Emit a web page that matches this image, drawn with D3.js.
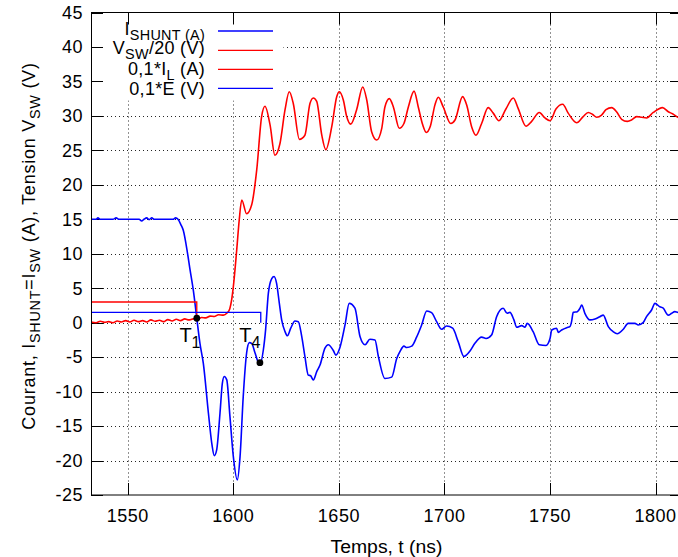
<!DOCTYPE html>
<html><head><meta charset="utf-8">
<script src="https://cdn.jsdelivr.net/npm/d3@7"></script>
<style>body{margin:0;background:#fff}svg{display:block}</style>
</head><body><svg id="c" width="678" height="557"></svg>
<script>
// ---- data ----
const xTicks = [1550, 1600, 1650, 1700, 1750, 1800];
const yTicks = [-25, -20, -15, -10, -5, 0, 5, 10, 15, 20, 25, 30, 35, 40, 45];

const tShunt = [1532.6,1535.0,1535.9,1536.9,1543.0,1544.5,1545.9,1555.4,1556.6,1557.7,1559.0,1560.1,1561.4,1562.5,1571.4,1572.7,1573.8,1575.2,1576.3,1578.3,1579.5,1581.1,1582.7,1584.2,1585.8,1588.2,1589.8,1591.0,1592.1,1593.7,1594.8,1595.7,1596.9,1598.4,1600.0,1601.9,1603.2,1604.7,1606.3,1607.6,1608.7,1610.3,1611.8,1612.8,1614.2,1615.3,1616.6,1618.2,1619.3,1620.5,1621.8,1622.9,1624.5,1625.6,1627.2,1629.2,1630.8,1632.4,1633.9,1635.5,1636.6,1637.9,1639.5,1641.1,1643.4,1645.0,1647.3,1648.6,1650.5,1652.9,1654.9,1657.6,1660.0,1662.4,1664.7,1667.1,1668.7,1671.8,1675.0,1677.4,1678.9,1680.8,1682.1,1684.5,1686.8,1689.2,1691.6,1693.9,1696.3,1698.7,1701.0,1703.9,1706.5,1709.2,1712.1,1714.4,1717.6,1719.7,1722.3,1724.7,1727.8,1729.7,1731.0,1732.9,1734.2,1736.6,1738.1,1739.2,1742.0,1744.9,1748.1,1750.0,1750.8,1753.1,1753.9,1755.5,1757.9,1759.4,1760.2,1761.0,1762.9,1764.2,1765.0,1766.5,1768.9,1771.3,1773.6,1775.2,1777.6,1779.9,1781.8,1784.7,1787.0,1790.2,1791.8,1794.1,1795.7,1798.1,1799.7,1802.0,1803.6,1806.0,1807.6,1809.1,1810.6,1812.5];
const iShunt = [15.0,15.0,15.2,15.0,15.0,15.2,15.0,15.0,14.75,15.0,15.2,14.95,15.2,15.0,15.0,15.2,15.0,14.2,13.4,10.1,7.7,4.6,0.64,-3.0,-5.9,-13.1,-17.5,-19.3,-18.5,-13.1,-8.8,-7.8,-8.3,-13.6,-19.4,-22.8,-19.4,-10.7,-4.4,-2.9,-3.0,-4.4,-5.7,-5.9,-4.0,-1.0,4.3,6.4,6.7,5.7,2.8,0.4,-1.3,-1.9,-0.8,0.25,0.15,-2.0,-4.9,-7.6,-7.7,-8.3,-7.1,-6.1,-3.7,-3.2,-4.0,-4.7,-3.6,-0.33,2.8,2.1,-2.0,-3.2,-2.4,-2.5,-4.9,-8.1,-7.9,-5.2,-4.2,-3.4,-3.6,-3.4,-2.1,-0.33,1.7,1.45,0.15,-0.96,-0.48,-0.8,-2.75,-4.9,-4.1,-3.0,-2.1,-2.3,-1.8,0.87,2.1,1.36,1.5,0.4,-0.67,-0.43,-0.67,-0.1,-1.3,-3.2,-3.3,-2.3,-1.06,-0.8,-1.4,-1.06,-0.72,-0.58,0.15,1.5,1.6,2.1,2.57,1.36,0.4,0.54,0.87,1.1,-0.58,-1.3,-1.6,-0.96,-0.1,-0.1,-0.33,0.0,0.87,1.84,2.8,2.3,2.1,1.1,1.36,1.6,1.5,1.5];

const tVsw = [1532.6,1535,1537,1539,1541,1543,1545,1547,1549,1551,1553,1555,1557,1559,1561,1563,1565,1567,1569,1571,1573,1575,1577,1579,1581,1583,1585,1587,1589,1591,1593,1595.3,1596.9,1598.3,1599.2,1600.0,1601.6,1602.8,1604.0,1606.3,1608.7,1611.1,1613.4,1615.0,1617.4,1619.7,1622.1,1624.5,1626.5,1628.4,1631.3,1633.9,1636.3,1637.9,1639.5,1641.9,1643.8,1646.6,1649.0,1650.2,1652.1,1653.7,1655.6,1658.4,1661.3,1663.2,1665.5,1667.9,1670.3,1671.8,1673.9,1675.8,1678.6,1680.8,1682.9,1685.6,1687.6,1689.7,1691.4,1693.3,1695.5,1697.1,1699.4,1703.0,1705.0,1708.6,1710.5,1712.9,1714.9,1717.6,1720.7,1723.1,1725.8,1729.1,1732.6,1734.9,1738.6,1741.3,1744.9,1747.6,1750.0,1752.8,1756.0,1758.6,1762.6,1765.7,1768.1,1770.2,1772.1,1774.4,1776.5,1779.2,1781.5,1783.9,1786.6,1788.6,1791.0,1793.4,1795.7,1798.9,1803.3,1806.0,1808.0,1810.6,1812.5];
const vSw = [0.1,0.0,0.2,0.05,0.15,0.0,0.25,0.1,0.3,0.1,0.35,0.15,0.3,0.1,0.4,0.2,0.35,0.15,0.45,0.25,0.5,0.3,0.55,0.4,0.55,0.5,0.75,0.7,0.95,0.9,1.15,1.1,1.36,2.0,3.3,5.2,10.5,14.9,17.8,15.8,17.1,22.2,29.9,31.4,28.7,24.3,26.0,30.9,33.5,31.8,26.6,27.2,31.8,32.6,32.1,27.2,25.1,28.4,32.8,33.5,32.3,29.9,28.8,30.9,34.2,32.3,27.7,26.5,28.2,31.3,32.5,31.3,28.2,28.9,31.3,33.6,31.3,28.7,27.6,28.5,31.6,32.7,31.3,28.9,29.4,32.8,31.6,28.4,27.2,28.9,31.2,30.4,29.3,31.0,32.6,31.1,28.5,29.2,30.5,29.7,29.3,31.0,31.7,30.4,29.0,29.9,30.5,30.2,29.8,30.1,30.9,31.2,30.6,29.5,29.2,29.4,29.9,29.8,29.7,30.5,31.2,30.6,30.3,29.8,29.6];

const tIL = [1532.6, 1582.7, 1582.7];
const iL = [3.0, 3.0, 0.64];
const tE = [1532.6, 1613.0, 1613.0];
const eV = [1.5, 1.5, 0.0];

const markT = [1582.7, 1612.6];
const markV = [0.64, -5.8];
const markSub = ["1", "4"];

// ---- layout ----
const FONT = "'Liberation Sans', Arial, Helvetica, sans-serif";
const L = 91, R = 682, T = 12.5, B = 495;
const BLUE = "#0000ff", RED = "#ff0000";

const svg = d3.select("#c");
const x = d3.scaleLinear().domain([1532.6, 1812.5]).range([L, R]);
const y = d3.scaleLinear().domain([-25, 45]).range([B, T]);

svg.append("defs").append("clipPath").attr("id", "clip")
  .append("rect").attr("x", L).attr("y", T).attr("width", R - L).attr("height", B - T);

// grid
const grid = svg.append("g").attr("stroke", "#000").attr("stroke-width", 1)
  .attr("stroke-dasharray", "1,3").attr("opacity", 0.85);
grid.selectAll("line.v").data(xTicks).join("line").attr("class", "v")
  .attr("x1", d => Math.round(x(d)) + 0.5).attr("x2", d => Math.round(x(d)) + 0.5)
  .attr("y1", T).attr("y2", B);
grid.selectAll("line.h").data(yTicks.filter(d => d > -25 && d < 45)).join("line").attr("class", "h")
  .attr("y1", d => Math.round(y(d)) + 0.5).attr("y2", d => Math.round(y(d)) + 0.5)
  .attr("x1", L).attr("x2", R);

// opaque key area
svg.append("rect").attr("x", L + 0.5).attr("y", T + 0.5).attr("width", 283 - L).attr("height", 100 - T).attr("fill", "#fff");

// ticks (inward, all four sides)
const TK = 12;
const tk = svg.append("g").attr("stroke", "#000").attr("stroke-width", 1);
xTicks.forEach(d => {
  const px = Math.round(x(d)) + 0.5;
  tk.append("line").attr("x1", px).attr("x2", px).attr("y1", B).attr("y2", B - TK);
  tk.append("line").attr("x1", px).attr("x2", px).attr("y1", T).attr("y2", T + TK);
});
yTicks.forEach(d => {
  const py = Math.round(y(d)) + 0.5;
  tk.append("line").attr("y1", py).attr("y2", py).attr("x1", L).attr("x2", L + TK);
  tk.append("line").attr("y1", py).attr("y2", py).attr("x1", R).attr("x2", R - TK);
});

// tick labels
svg.append("g").selectAll("text").data(xTicks).join("text")
  .attr("x", d => x(d)).attr("y", 522).attr("text-anchor", "middle")
  .attr("font-family", FONT).attr("font-size", 18).attr("letter-spacing", 0.5).text(d => d);
svg.append("g").selectAll("text").data(yTicks).join("text")
  .attr("x", 83).attr("y", d => y(d) + 6.3).attr("text-anchor", "end")
  .attr("font-family", FONT).attr("font-size", 18).attr("letter-spacing", 0.5).text(d => d);

// axis titles
svg.append("text").attr("x", (L + 678) / 2 + 2).attr("y", 553).attr("text-anchor", "middle")
  .attr("font-family", FONT).attr("font-size", 18)
  .attr("textLength", 112).attr("lengthAdjust", "spacingAndGlyphs").text("Temps, t (ns)");

function richText(sel, parts, subSize, subDy) {
  let shift = 0;
  parts.forEach(([s, sub]) => {
    const ts = sel.append("tspan").text(s);
    if (sub && shift === 0) { ts.attr("dy", subDy).attr("font-size", subSize); shift = subDy; }
    else if (!sub && shift !== 0) { ts.attr("dy", -shift); shift = 0; }
  });
}
const yl = svg.append("text").attr("transform", "translate(35,246) rotate(-90)")
  .attr("text-anchor", "middle").attr("font-family", FONT).attr("font-size", 18)
  .attr("letter-spacing", 0.75);
richText(yl, [["Courant, I", false], ["SHUNT", true], ["=I", false], ["SW", true],
  [" (A), Tension V", false], ["SW", true], [" (V)", false]], 14.4, 5);

// curves
const plot = svg.append("g").attr("clip-path", "url(#clip)");
const line = d3.line().x(d => x(d[0])).y(d => y(d[1])).curve(d3.curveMonotoneX);
const lineLin = d3.line().x(d => x(d[0])).y(d => y(d[1]));

plot.append("path").datum(d3.zip(tShunt, iShunt)).attr("d", line)
  .attr("fill", "none").attr("stroke", BLUE).attr("stroke-width", 1.6).attr("stroke-linejoin", "round");
plot.append("path").datum(d3.zip(tVsw, vSw)).attr("d", line)
  .attr("fill", "none").attr("stroke", RED).attr("stroke-width", 1.6).attr("stroke-linejoin", "round");
plot.append("path").datum(d3.zip(tIL, iL)).attr("d", lineLin)
  .attr("fill", "none").attr("stroke", RED).attr("stroke-width", 1.3);
plot.append("path").datum(d3.zip(tE, eV)).attr("d", lineLin)
  .attr("fill", "none").attr("stroke", BLUE).attr("stroke-width", 1.3);

// markers and labels
const marks = d3.zip(markT, markV, markSub);
svg.append("g").selectAll("circle").data(marks).join("circle")
  .attr("cx", d => x(d[0])).attr("cy", d => y(d[1])).attr("r", 3.4).attr("fill", "#000");
const labOff = [[-17.4, 23.4], [-20.7, -21]];
marks.forEach((d, i) => {
  const t = svg.append("text").attr("x", x(d[0]) + labOff[i][0]).attr("y", y(d[1]) + labOff[i][1])
    .attr("font-family", FONT).attr("font-size", 20);
  t.append("tspan").text("T");
  t.append("tspan").attr("dy", 6.5).attr("font-size", 16).text(d[2]);
});

// legend
const legend = [
  {parts: [["I", false], ["SHUNT (A)", true]], color: BLUE, ly: 31, by: 35},
  {parts: [["V", false], ["SW", true], ["/20 (V)", false]], color: RED, ly: 50.3, by: 53.8},
  {parts: [["0,1*I", false], ["L", true], [" (A)", false]], color: RED, ly: 69.3, by: 75},
  {parts: [["0,1*E (V)", false]], color: BLUE, ly: 88.3, by: 95}
];
legend.forEach(e => {
  const t = svg.append("text").attr("x", 205).attr("y", e.by).attr("text-anchor", "end")
    .attr("font-family", FONT).attr("font-size", 18).attr("letter-spacing", 0.3);
  richText(t, e.parts, 14.4, 5);
  svg.append("line").attr("x1", 218).attr("x2", 273).attr("y1", e.ly).attr("y2", e.ly)
    .attr("stroke", e.color).attr("stroke-width", 1.3);
});

// frame
svg.append("rect").attr("x", L + 0.5).attr("y", T).attr("width", R - L).attr("height", B - T)
  .attr("fill", "none").attr("stroke", "#000").attr("stroke-width", 1);
</script></body></html>
